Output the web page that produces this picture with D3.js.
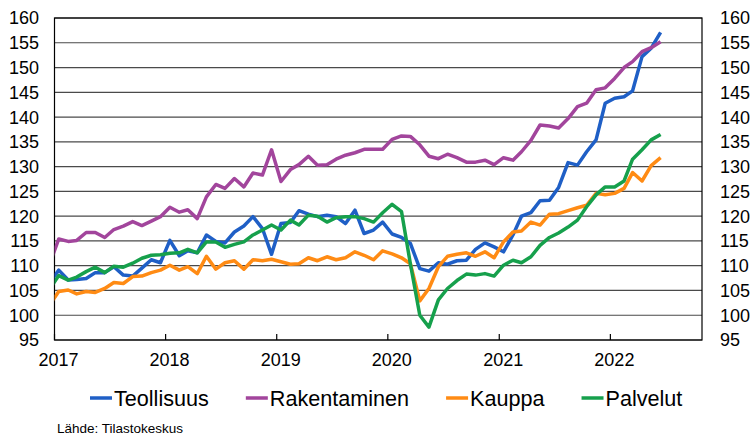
<!DOCTYPE html>
<html>
<head>
<meta charset="utf-8">
<script src="https://cdn.jsdelivr.net/npm/d3@7"></script>
<style>
  body { margin: 0; background: #fff; }
  svg { display: block; font-family: "Liberation Sans", Arial, sans-serif; }
</style>
</head>
<body>
<div id="chart"></div>
<script>
// monthly index values, Dec 2016 .. Jun 2022 (first point sits left of the axis start and gets clipped)
var months = [
  "2016-12",
  "2017-01","2017-02","2017-03","2017-04","2017-05","2017-06","2017-07","2017-08","2017-09","2017-10","2017-11","2017-12",
  "2018-01","2018-02","2018-03","2018-04","2018-05","2018-06","2018-07","2018-08","2018-09","2018-10","2018-11","2018-12",
  "2019-01","2019-02","2019-03","2019-04","2019-05","2019-06","2019-07","2019-08","2019-09","2019-10","2019-11","2019-12",
  "2020-01","2020-02","2020-03","2020-04","2020-05","2020-06","2020-07","2020-08","2020-09","2020-10","2020-11","2020-12",
  "2021-01","2021-02","2021-03","2021-04","2021-05","2021-06","2021-07","2021-08","2021-09","2021-10","2021-11","2021-12",
  "2022-01","2022-02","2022-03","2022-04","2022-05","2022-06"
];

var teollisuus = [106.5,
  109.1,107.1,107.2,107.4,108.6,108.6,109.8,108.1,107.9,109.5,111.2,110.6,
  115.1,112.0,113.0,112.6,116.2,114.9,114.6,116.8,118.0,119.9,117.5,112.3,
  118.5,118.7,121.1,120.4,119.9,120.2,119.9,118.5,121.2,116.5,117.2,118.8,
  116.4,115.7,114.5,109.4,108.9,110.6,110.3,111.0,111.1,113.3,114.6,113.8,
  112.8,116.2,120.0,120.7,123.1,123.2,125.8,130.8,130.3,133.0,135.4,142.8,
  143.8,144.1,145.3,152.2,153.9,157.1];

var rakentaminen = [110.2,
  115.4,114.9,115.1,116.7,116.7,115.7,117.3,118.0,118.9,118.1,119.0,119.9,
  121.8,120.8,121.3,119.5,123.9,126.4,125.6,127.6,125.9,128.7,128.3,133.4,
  127.0,129.4,130.4,132.1,130.3,130.4,131.5,132.3,132.8,133.5,133.5,133.5,
  135.5,136.2,136.1,134.4,132.1,131.6,132.5,131.8,130.9,130.9,131.3,130.4,
  131.8,131.3,133.0,135.3,138.4,138.2,137.8,139.7,142.1,142.8,145.5,145.9,
  147.8,150.0,151.2,153.2,154.0,155.2];

var kauppa = [102.0,
  104.8,105.1,104.3,104.8,104.6,105.4,106.6,106.4,107.8,107.9,108.6,109.1,
  110.1,109.1,109.8,108.4,111.9,109.3,110.6,111.0,109.3,111.2,111.0,111.3,
  110.8,110.3,110.4,111.6,111.0,111.8,111.2,111.6,112.8,112.1,111.2,113.0,
  112.4,111.6,110.4,102.9,105.4,109.8,111.9,112.3,112.6,111.9,112.8,111.6,
  114.8,116.8,117.0,118.8,118.2,120.4,120.5,121.1,121.7,122.2,124.6,124.3,
  124.6,125.6,128.8,127.1,130.2,131.8];

var palvelut = [105.2,
  108.0,107.1,107.7,108.8,109.7,108.6,109.9,109.7,110.5,111.5,112.1,112.2,
  112.5,112.6,113.3,112.6,114.8,114.8,113.7,114.3,114.8,116.2,117.2,118.2,
  117.2,119.2,118.2,120.2,120.0,118.8,119.7,119.9,119.9,119.5,118.8,120.7,
  122.4,120.9,110.4,100.0,97.6,103.1,105.4,107.0,108.3,108.1,108.4,107.9,
  110.1,111.1,110.6,111.8,114.1,115.7,116.6,117.8,119.2,121.9,124.3,125.9,
  125.9,127.1,131.5,133.4,135.4,136.5];

var seriesNames = ["Teollisuus", "Rakentaminen", "Kauppa", "Palvelut"];
var seriesColors = ["#1f5fc6", "#a2459c", "#ff8b14", "#16a04c"];
var yTicks = [95,100,105,110,115,120,125,130,135,140,145,150,155,160];
var yearTicks = ["2017","2018","2019","2020","2021","2022"];
var source = "Lähde: Tilastokeskus";

var width = 752, height = 436;
var plotLeft = 54.5, plotRight = 702, plotTop = 18, plotBottom = 340;

var parseMonth = d3.timeParse("%Y-%m");
var parseYear = d3.timeParse("%Y");
var dates = months.map(function(m){ return d3.timeDay.offset(parseMonth(m), 14); }); // mid-month

var xScale = d3.scaleTime()
  .domain([new Date(2017,0,1), new Date(2022,9,29)])
  .range([plotLeft, plotRight]);

var yScale = d3.scaleLinear()
  .domain([95, 160])
  .range([plotBottom, plotTop]);

var svg = d3.select("#chart").append("svg")
  .attr("width", width)
  .attr("height", height);

// gridlines
svg.append("g").selectAll("line").data(yTicks).enter().append("line")
  .attr("x1", plotLeft).attr("x2", plotRight)
  .attr("y1", function(d){ return yScale(d); })
  .attr("y2", function(d){ return yScale(d); })
  .attr("stroke", "#4a4a4a")
  .attr("stroke-width", 1.2);

// frame
svg.append("rect")
  .attr("x", plotLeft).attr("y", plotTop)
  .attr("width", plotRight - plotLeft).attr("height", plotBottom - plotTop)
  .attr("fill", "none")
  .attr("stroke", "#000")
  .attr("stroke-width", 1.2);

// x ticks (inward)
svg.append("g").selectAll("line").data(yearTicks).enter().append("line")
  .attr("x1", function(d){ return xScale(parseYear(d)); })
  .attr("x2", function(d){ return xScale(parseYear(d)); })
  .attr("y1", plotBottom).attr("y2", plotBottom - 6)
  .attr("stroke", "#000")
  .attr("stroke-width", 1.2);

// year labels
svg.append("g").selectAll("text").data(yearTicks).enter().append("text")
  .attr("x", function(d){ return xScale(parseYear(d)) + 4; })
  .attr("y", 366)
  .attr("text-anchor", "middle")
  .attr("font-size", 18)
  .attr("fill", "#000")
  .text(function(d){ return d; });

// y labels, both sides
svg.append("g").selectAll("text").data(yTicks).enter().append("text")
  .attr("x", 39)
  .attr("y", function(d){ return yScale(d); })
  .attr("dy", "0.36em")
  .attr("text-anchor", "end")
  .attr("font-size", 18)
  .text(function(d){ return d; });

svg.append("g").selectAll("text").data(yTicks).enter().append("text")
  .attr("x", 720)
  .attr("y", function(d){ return yScale(d); })
  .attr("dy", "0.36em")
  .attr("text-anchor", "start")
  .attr("font-size", 18)
  .text(function(d){ return d; });

// lines
svg.append("clipPath").attr("id", "plotclip")
  .append("rect")
  .attr("x", plotLeft).attr("y", plotTop - 6)
  .attr("width", plotRight - plotLeft).attr("height", plotBottom - plotTop + 12);

var line = d3.line()
  .x(function(d, i){ return xScale(dates[i]); })
  .y(function(d){ return yScale(d); });

var allSeries = [teollisuus, rakentaminen, kauppa, palvelut];

svg.append("g").attr("clip-path", "url(#plotclip)")
  .selectAll("path").data(allSeries).enter().append("path")
  .attr("d", function(d){ return line(d); })
  .attr("fill", "none")
  .attr("stroke", function(d, i){ return seriesColors[i]; })
  .attr("stroke-width", 3.5)
  .attr("stroke-linejoin", "round");

// legend
var legend = svg.append("g");
var lx = 90, ly = 398;
seriesNames.forEach(function(name, i){
  legend.append("line")
    .attr("x1", lx).attr("x2", lx + 22)
    .attr("y1", ly).attr("y2", ly)
    .attr("stroke", seriesColors[i])
    .attr("stroke-width", 3.5);
  var t = legend.append("text")
    .attr("x", lx + 24)
    .attr("y", ly)
    .attr("dy", "0.36em")
    .attr("font-size", 21.6)
    .text(name);
  lx = lx + 24 + t.node().getComputedTextLength() + 37;
});

svg.append("text")
  .attr("x", 57)
  .attr("y", 433)
  .attr("font-size", 13.5)
  .text(source);
</script>
</body>
</html>
